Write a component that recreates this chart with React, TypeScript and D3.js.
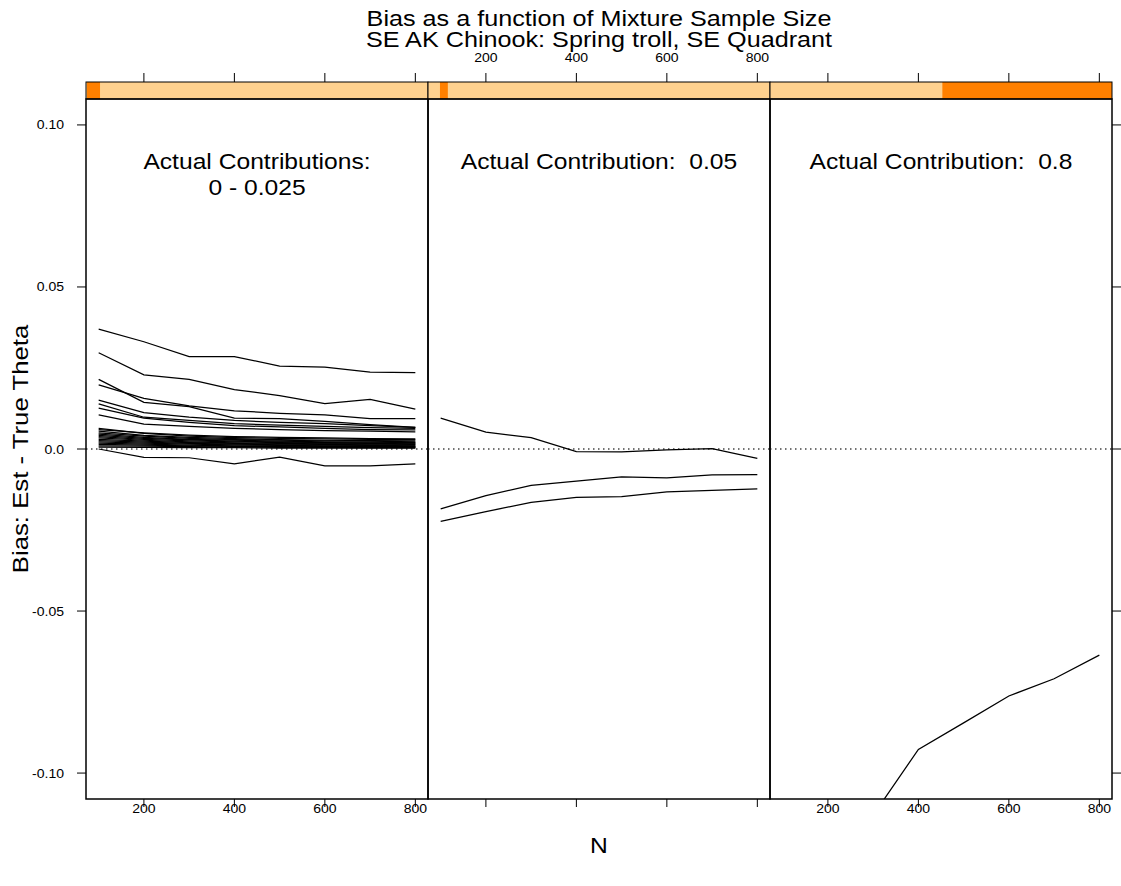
import { scaleLinear, line as d3line } from "d3";

// sample sizes (x) shared by all series
const sampleSizes = [100, 200, 300, 400, 500, 600, 700, 800];

// panel 1: contributions 0 - 0.025
const panel1Series = [
  [0.037, 0.0331, 0.0285, 0.0285, 0.0256, 0.0253, 0.0237, 0.0236],
  [0.0297, 0.0229, 0.0215, 0.0183, 0.0165, 0.014, 0.0153, 0.0123],
  [0.0215, 0.0144, 0.0131, 0.0095, 0.0094, 0.0085, 0.0075, 0.0067],
  [0.0198, 0.0156, 0.0133, 0.0118, 0.011, 0.0105, 0.0094, 0.0094],
  [0.0151, 0.0112, 0.0098, 0.0088, 0.0082, 0.0078, 0.0072, 0.0067],
  [0.0139, 0.0098, 0.0088, 0.0078, 0.0074, 0.007, 0.0066, 0.0064],
  [0.0126, 0.0095, 0.0082, 0.0072, 0.0068, 0.0064, 0.006, 0.0059],
  [0.0105, 0.0077, 0.007, 0.0064, 0.006, 0.0057, 0.0055, 0.0053],
  [0.0064, 0.0048, 0.004, 0.0035, 0.0033, 0.0031, 0.003, 0.0029],
  [0.006, 0.005, 0.0043, 0.0038, 0.0036, 0.0034, 0.0032, 0.0031],
  [0.0055, 0.0042, 0.0036, 0.0032, 0.0029, 0.0027, 0.0026, 0.0025],
  [0.005, 0.004, 0.0033, 0.0029, 0.0027, 0.0025, 0.0024, 0.0022],
  [0.0046, 0.0036, 0.003, 0.0027, 0.0024, 0.0022, 0.0021, 0.002],
  [0.0042, 0.0033, 0.0028, 0.0024, 0.0022, 0.002, 0.0019, 0.0018],
  [0.0038, 0.003, 0.0025, 0.0022, 0.002, 0.0018, 0.0017, 0.0016],
  [0.0034, 0.0027, 0.0022, 0.0019, 0.0017, 0.0016, 0.0015, 0.0014],
  [0.003, 0.0024, 0.002, 0.0017, 0.0015, 0.0014, 0.0013, 0.0012],
  [0.0026, 0.0021, 0.0017, 0.0015, 0.0013, 0.0012, 0.0011, 0.001],
  [0.0022, 0.0018, 0.0015, 0.0013, 0.0011, 0.001, 0.0009, 0.0008],
  [0.0018, 0.0015, 0.0012, 0.001, 0.0009, 0.0008, 0.0007, 0.0007],
  [0.0014, 0.0012, 0.001, 0.0008, 0.0007, 0.0006, 0.0006, 0.0005],
  [0.001, 0.0009, 0.0007, 0.0006, 0.0005, 0.0005, 0.0004, 0.0004],
  [0.0006, 0.0005, 0.0004, 0.0004, 0.0003, 0.0003, 0.0003, 0.0003],
  [0.0, -0.0026, -0.0027, -0.0046, -0.0025, -0.0052, -0.0052, -0.0046],
];

// panel 2: contribution 0.05
const panel2Series = [
  [0.0095, 0.0052, 0.0035, -0.0008, -0.0009, -0.0003, 0.0001, -0.0029],
  [-0.0185, -0.0144, -0.0112, -0.0099, -0.0086, -0.0089, -0.008, -0.0079],
  [-0.0223, -0.0193, -0.0165, -0.0149, -0.0147, -0.0132, -0.0128, -0.0123],
];

// panel 3: contribution 0.8
const panel3Series = [
  [-0.16, -0.135, -0.113, -0.0927, -0.0845, -0.0762, -0.0709, -0.0636],
];

const panelSeries = [panel1Series, panel2Series, panel3Series];
const stripLabels = [["Actual Contributions:", "0 - 0.025"], ["Actual Contribution:  0.05"], ["Actual Contribution:  0.8"]];
// shingle ranges shown in strips (fraction of strip width)
const stripRanges = [[0.003, 0.041], [0.035, 0.058], [0.504, 1.0]];

const xTicks = [200, 400, 600, 800];
const yTicks = [0.1, 0.05, 0, -0.05, -0.1];
const yTickLabels = ["0.10", "0.05", "0.0", "-0.05", "-0.10"];

const title = "Bias as a function of Mixture Sample Size";
const subtitle = "SE AK Chinook: Spring troll, SE Quadrant";
const xLabel = "N";
const yLabel = "Bias: Est - True Theta";

const W = 1121;
const H = 886;
const left = 86;
const right = 1112;
const top = 99;
const bottom = 799;
const stripH = 17;
const panelW = (right - left) / 3;
const font = "Liberation Sans, Arial, Helvetica, sans-serif";
const sx = 1.12; // glyphs in the original are a bit wide

function T({ x, y, size, anchor = "middle", rotate = 0, stretch = sx, children }: any) {
  return (
    <text
      transform={`translate(${x},${y}) rotate(${rotate}) scale(${stretch},1)`}
      textAnchor={anchor}
      fontSize={size}
      style={{ whiteSpace: "pre" }}
    >
      {children}
    </text>
  );
}

export default function App() {
  const y = scaleLinear().domain([-0.108, 0.108]).range([bottom, top]);

  return (
    <div style={{ position: "absolute", left: 0, top: 0 }}>
      <svg width={W} height={H} style={{ display: "block", background: "#fff" }} fontFamily={font}>
        <T x={599} y={26} size={22.5}>{title}</T>
        <T x={599} y={47} size={22.5}>{subtitle}</T>

        {panelSeries.map((series, p) => {
          const x0 = left + p * panelW;
          const x = scaleLinear().domain([72, 828]).range([x0, x0 + panelW]);
          const line = d3line<number>()
            .x((_, i) => x(sampleSizes[i]))
            .y((d) => y(d));
          const strip = scaleLinear().domain([0, 1]).range([x0, x0 + panelW]);
          const [s0, s1] = stripRanges[p];
          return (
            <g key={p}>
              <defs>
                <clipPath id={`clip${p}`}>
                  <rect x={x0} y={top} width={panelW} height={bottom - top} />
                </clipPath>
              </defs>
              {/* strip */}
              <rect x={x0} y={top - stripH} width={panelW} height={stripH} fill="#FED18F" />
              <rect x={strip(s0)} y={top - stripH} width={strip(s1) - strip(s0)} height={stripH} fill="#FF8000" />
              <rect x={x0} y={top - stripH} width={panelW} height={stripH} fill="none" stroke="#000" strokeWidth={1} />

              {/* reference line */}
              <line x1={x0} x2={x0 + panelW} y1={y(0)} y2={y(0)} stroke="#444" strokeDasharray="1.5,3.5" strokeWidth={1.3} />

              <g clipPath={`url(#clip${p})`}>
                {series.map((s, i) => (
                  <path key={i} d={line(s) ?? undefined} fill="none" stroke="#000" strokeWidth={1.25} />
                ))}
              </g>

              {/* panel label */}
              {stripLabels[p].map((t, i) => (
                <T key={i} x={x0 + panelW / 2} y={169 + i * 26} size={22}>{t}</T>
              ))}

              {/* x ticks top and bottom */}
              {xTicks.map((t) => (
                <g key={t}>
                  <line x1={x(t)} x2={x(t)} y1={top - stripH} y2={top - stripH - 9} stroke="#000" />
                  <line x1={x(t)} x2={x(t)} y1={bottom} y2={bottom + 8} stroke="#000" />
                  {p === 1 ? (
                    <T x={x(t)} y={62} size={13} stretch={1.08}>{t}</T>
                  ) : (
                    <T x={x(t)} y={813} size={13} stretch={1.08}>{t}</T>
                  )}
                </g>
              ))}

              <rect x={x0} y={top} width={panelW} height={bottom - top} fill="none" stroke="#000" strokeWidth={1.5} />
            </g>
          );
        })}

        {/* y axis ticks */}
        {yTicks.map((t, i) => (
          <g key={t}>
            <line x1={left} x2={left - 9} y1={y(t)} y2={y(t)} stroke="#000" />
            <line x1={right} x2={right + 9} y1={y(t)} y2={y(t)} stroke="#000" />
            <T x={64} y={y(t) + 4.5} size={13} anchor="end" stretch={1.08}>{yTickLabels[i]}</T>
          </g>
        ))}

        <T x={599} y={853} size={22}>{xLabel}</T>
        <T x={28} y={y(0)} size={23} rotate={-90}>{yLabel}</T>
      </svg>
    </div>
  );
}
